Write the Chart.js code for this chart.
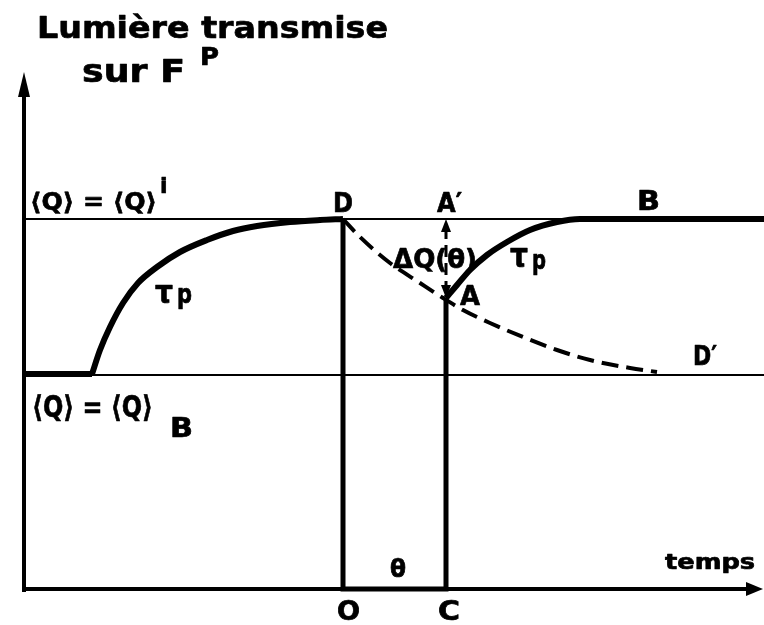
<!DOCTYPE html>
<html lang="fr">
<head>
  <meta charset="UTF-8">
  <title>Lumière transmise sur F^P</title>
  <script src="https://cdn.jsdelivr.net/npm/chart.js"></script>
  <style>
    body { margin: 0; background: #fff; }
  </style>
</head>
<body>
  <canvas id="chart" width="764" height="625"></canvas>
  <script>

// levels of <Q> (same units as the time axis, origin at the axes corner)
const qI = 370;   // <Q> = <Q>^i
const qB = 214;   // <Q> = <Q>_B

// instants
const tD = 319;   // D / O
const tC = 422;   // C / A
const tEnd = 740;

// flat part at <Q>_B before the light is switched on
const startT = [0, 68];
const startQ = [215, 215];

// first rise (tau_p) from <Q>_B up to <Q>^i
const rise1T = [68, 76, 86, 99, 114, 133, 156, 183, 209, 233, 266, 296, 319];
const rise1Q = [215, 239, 262, 286, 306, 322, 337, 349, 358, 363, 367, 369, 370];

// light cut between D and C
const cutT = [tD, tD, tC, tC];
const cutQ = [qI, 0, 0, 291];

// second rise (tau_p) from A back to B
const rise2T = [422, 433, 446, 463, 483, 506, 533, 556, 583, 740];
const rise2Q = [291, 304, 319, 334, 347, 359, 367, 370, 370, 370];

// dashed decay D -> D'
const decayT = [319, 336, 366, 396, 419, 439, 466, 499, 533, 566, 606, 633];
const decayQ = [370, 352, 326, 306, 291, 279, 266, 252, 239, 229, 221, 217];

// delta Q(theta) between A and A'
const deltaT = [tC, tC];
const deltaQ = [362, 299];

const pts = (ts, qs) => ts.map((t, i) => ({ x: t, y: qs[i] }));

const FONT = '"DejaVu Sans", "Liberation Sans", sans-serif';

// text: left edge (t), baseline (q), size, width to fit
const labels = [
  { text: 'Lumière transmise', t: 13, q: 551, size: 31, w: 351 },
  { text: 'sur F', t: 58, q: 507, size: 32, w: 103 },
  { text: 'P', t: 176, q: 524, size: 24, w: 19 },
  { text: '⟨Q⟩ = ⟨Q⟩', t: 6, q: 379, size: 24, w: 127 },
  { text: 'i', t: 136, q: 396, size: 22 },
  { text: '⟨Q⟩ = ⟨Q⟩', t: 8, q: 172, size: 30, w: 121 },
  { text: 'B', t: 146, q: 152, size: 26, w: 23 },
  { text: 'D', t: 309, q: 377, size: 26, w: 20 },
  { text: 'A\u2032', t: 413, q: 377, size: 26, w: 25 },
  { text: 'B', t: 613, q: 379, size: 26, w: 23 },
  { text: 'ΔQ(θ)', t: 369, q: 321, size: 26, w: 84 },
  { text: 'τ', t: 486, q: 322, size: 34, w: 18 },
  { text: 'p', t: 508, q: 320, size: 27, w: 14 },
  { text: 'τ', t: 131, q: 286, size: 32, w: 18 },
  { text: 'p', t: 153, q: 286, size: 26, w: 15 },
  { text: 'A', t: 436, q: 284, size: 27, w: 20 },
  { text: 'D\u2032', t: 669, q: 224, size: 26, w: 24 },
  { text: 'θ', t: 366, q: 12, size: 24, w: 16 },
  { text: 'O', t: 313, q: -31, size: 26, w: 23 },
  { text: 'C', t: 414, q: -31, size: 26, w: 22 },
  { text: 'temps', t: 641, q: 20, size: 21, w: 90 }
];

// arrow heads: tip position, direction, length, half width
const arrows = [
  { t: 0, q: 517, dir: 'up', len: 25, half: 6 },
  { t: 739, q: 0, dir: 'right', len: 17, half: 7 },
  { t: tC, q: 370, dir: 'up', len: 13, half: 5 },
  { t: tC, q: 291, dir: 'down', len: 13, half: 5 }
];

const annotate = {
  id: 'annotate',
  afterDatasetsDraw(chart) {
    const ctx = chart.ctx;
    const xs = chart.scales.x, ys = chart.scales.y;
    ctx.save();
    ctx.fillStyle = '#000';
    ctx.strokeStyle = '#000';
    arrows.forEach(a => {
      const x = xs.getPixelForValue(a.t), y = ys.getPixelForValue(a.q);
      ctx.beginPath();
      ctx.moveTo(x, y);
      if (a.dir === 'up') { ctx.lineTo(x - a.half, y + a.len); ctx.lineTo(x + a.half, y + a.len); }
      if (a.dir === 'down') { ctx.lineTo(x - a.half, y - a.len); ctx.lineTo(x + a.half, y - a.len); }
      if (a.dir === 'right') { ctx.lineTo(x - a.len, y - a.half); ctx.lineTo(x - a.len, y + a.half); }
      ctx.closePath();
      ctx.fill();
    });
    ctx.textAlign = 'left';
    ctx.textBaseline = 'alphabetic';
    ctx.lineJoin = 'round';
    labels.forEach(l => {
      ctx.font = 'bold ' + l.size + 'px ' + FONT;
      const m = ctx.measureText(l.text).width;
      const sx = l.w ? l.w / m : 1;
      ctx.save();
      ctx.translate(xs.getPixelForValue(l.t), ys.getPixelForValue(l.q));
      ctx.scale(sx, 1);
      // a little heavier, like the stencil lettering
      ctx.lineWidth = 0.7;
      ctx.strokeText(l.text, 0, 0);
      ctx.fillText(l.text, 0, 0);
      ctx.restore();
    });
    ctx.restore();
  }
};

const line = (data, width, extra) => Object.assign({
  data: data,
  borderColor: '#000',
  borderWidth: width,
  pointRadius: 0,
  fill: false,
  tension: 0,
  borderJoinStyle: 'miter',
  borderCapStyle: 'butt'
}, extra || {});

new Chart(document.getElementById('chart'), {
  type: 'line',
  data: {
    datasets: [
      // axes and reference levels
      line(pts([0, 0], [-3, 500]), 4),
      line(pts([-2, 730], [0, 0]), 4),
      line(pts([0, tEnd + 2], [qI, qI]), 2),
      line(pts([0, tEnd + 2], [qB, qB]), 2),
      // signal
      line(pts(startT, startQ), 6),
      line(pts(rise1T, rise1Q), 6, { cubicInterpolationMode: 'monotone' }),
      line(pts(cutT, cutQ), 5),
      line(pts(rise2T, rise2Q), 6, { cubicInterpolationMode: 'monotone' }),
      // decay without the cut
      line(pts(decayT, decayQ), 4, { cubicInterpolationMode: 'monotone', borderDash: [17, 8] }),
      // delta Q(theta)
      line(pts(deltaT, deltaQ), 3, { borderDash: [12, 6] })
    ]
  },
  options: {
    responsive: false,
    animation: false,
    events: [],
    layout: { padding: 0 },
    scales: {
      x: { type: 'linear', min: -24, max: 740, display: false },
      y: { type: 'linear', min: -36, max: 589, display: false }
    },
    plugins: {
      legend: { display: false },
      tooltip: { enabled: false }
    }
  },
  plugins: [annotate]
});

  </script>
</body>
</html>
